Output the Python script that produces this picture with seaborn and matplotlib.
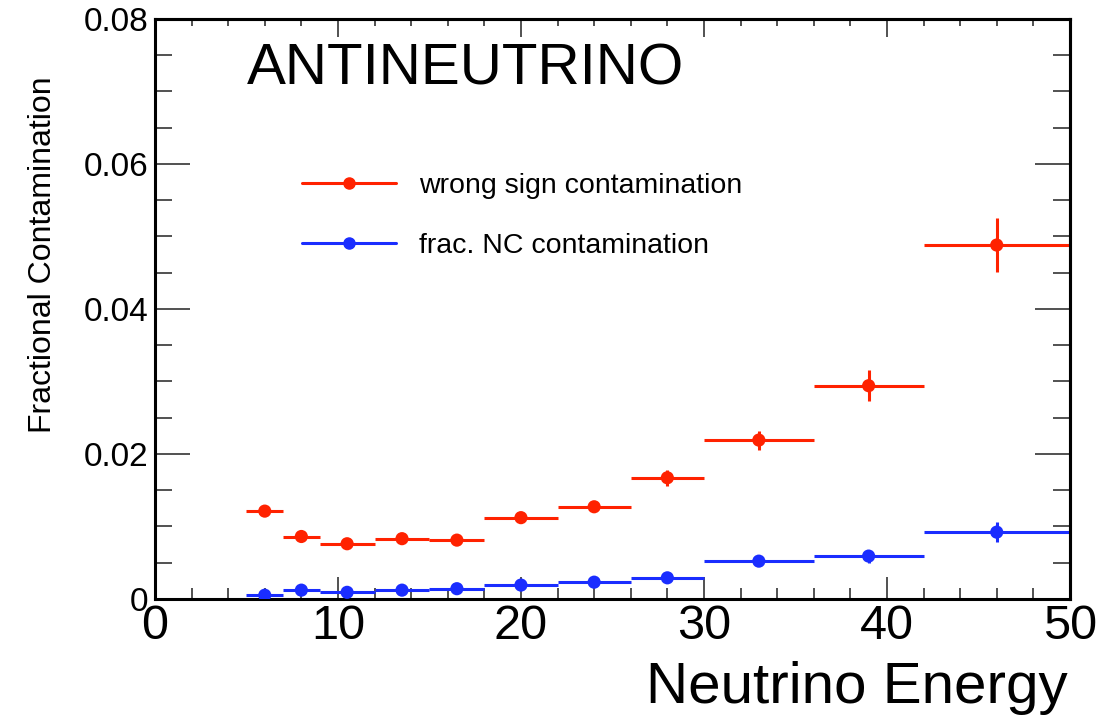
import matplotlib
matplotlib.use("Agg")
import matplotlib.pyplot as plt
from matplotlib.ticker import MultipleLocator
from matplotlib.lines import Line2D
import numpy as np
import pandas as pd
import seaborn as sns

# bin edges in neutrino energy
bin_lo = [5, 7, 9, 12, 15, 18, 22, 26, 30, 36, 42]
bin_hi = [7, 9, 12, 15, 18, 22, 26, 30, 36, 42, 50]
bin_center = [6, 8, 10.5, 13.5, 16.5, 20, 24, 28, 33, 39, 46]

wrong_sign = [0.0121, 0.0086, 0.0076, 0.0083, 0.0081, 0.0112, 0.0127, 0.0167, 0.0219, 0.0294, 0.0488]
wrong_sign_err = [0.0005, 0.0005, 0.0005, 0.0005, 0.0005, 0.0006, 0.0007, 0.0011, 0.0013, 0.0021, 0.0037]
nc_frac = [0.0005, 0.0012, 0.0009, 0.0012, 0.0014, 0.0019, 0.0023, 0.0029, 0.0052, 0.0059, 0.0092]
nc_err = [0.0003, 0.0003, 0.0003, 0.0003, 0.0003, 0.0004, 0.0004, 0.0005, 0.0006, 0.0009, 0.0014]

labels = ["wrong sign contamination", "frac. NC contamination"]
colors = ["#ff2200", "#1a2dff"]

sns.set_style("white")
plt.rcParams['font.family'] = ['Liberation Sans', 'DejaVu Sans']
plt.rcParams['text.color'] = 'black'
plt.rcParams['axes.labelcolor'] = 'black'
plt.rcParams['xtick.color'] = '#333333'
plt.rcParams['ytick.color'] = '#333333'
plt.rcParams['xtick.labelcolor'] = 'black'
plt.rcParams['ytick.labelcolor'] = 'black'

rows = []
for lab, vals, errs in [(labels[0], wrong_sign, wrong_sign_err), (labels[1], nc_frac, nc_err)]:
    for lo, hi, c, v, e in zip(bin_lo, bin_hi, bin_center, vals, errs):
        rows.append({"series": lab, "lo": lo, "hi": hi, "E": c, "frac": v, "err": e})
df = pd.DataFrame(rows)

fig = plt.figure(figsize=(11.18, 7.25), dpi=100)
ax = fig.add_axes([0.1386, 0.174, 0.8184, 0.8])

for lab, col in zip(labels, colors):
    d = df[df["series"] == lab]
    ax.errorbar(d["E"], d["frac"],
                xerr=[d["E"] - d["lo"], d["hi"] - d["E"]],
                yerr=d["err"], fmt="none", ecolor=col, elinewidth=2.2, capsize=0)
sns.scatterplot(data=df, x="E", y="frac", hue="series", palette=colors,
                s=90, edgecolor="none", legend=False, ax=ax, zorder=3)

ax.set_xlim(0, 50)
ax.set_ylim(0, 0.08)
ax.xaxis.set_major_locator(MultipleLocator(10))
ax.xaxis.set_minor_locator(MultipleLocator(2))
ax.yaxis.set_major_locator(MultipleLocator(0.02))
ax.yaxis.set_minor_locator(MultipleLocator(0.005))
ax.set_yticks([0, 0.02, 0.04, 0.06, 0.08])
ax.set_yticklabels(["0", "0.02", "0.04", "0.06", "0.08"])
ax.tick_params(which="both", direction="in", bottom=True, left=True, top=False, right=False, width=1.2)
ax.tick_params(axis="x", which="major", length=16, labelsize=35, pad=4)
ax.tick_params(axis="x", which="minor", length=8)
ax.tick_params(axis="y", which="major", length=25, labelsize=24, pad=5)
ax.tick_params(axis="y", which="minor", length=12)
for s in ax.spines.values():
    s.set_linewidth(2.2)
    s.set_color("black")

# ticks on the top and right edges
top = ax.secondary_xaxis("top")
top.xaxis.set_major_locator(MultipleLocator(10))
top.xaxis.set_minor_locator(MultipleLocator(2))
top.tick_params(which="both", direction="in", labeltop=False, width=1.2)
top.tick_params(which="major", length=13)
top.tick_params(which="minor", length=5)
top.spines["top"].set_linewidth(2.2)
right = ax.secondary_yaxis("right")
right.yaxis.set_major_locator(MultipleLocator(0.02))
right.yaxis.set_minor_locator(MultipleLocator(0.005))
right.tick_params(which="both", direction="in", labelright=False, width=1.2)
right.tick_params(which="major", length=25)
right.tick_params(which="minor", length=12)
right.spines["right"].set_linewidth(2.2)

ax.set_xlabel("Neutrino Energy", fontsize=42, ha="right")
ax.xaxis.set_label_coords(0.998, -0.108)
ax.set_ylabel("Fractional Contamination", fontsize=23)
ax.yaxis.set_label_coords(-0.106, 0.593)

ax.text(0.101, 0.913, "ANTINEUTRINO", transform=ax.transAxes, fontsize=42, va="center", ha="left")

handles = [Line2D([], [], color=c, lw=2.2, marker="o", markersize=8) for c in colors]
ax.legend(handles, labels, loc="center left", bbox_to_anchor=(0.133, 0.66), frameon=False,
          fontsize=20.5, handlelength=3.3, labelspacing=1.2, handletextpad=0.8)

fig.savefig("out.png", dpi=100)
